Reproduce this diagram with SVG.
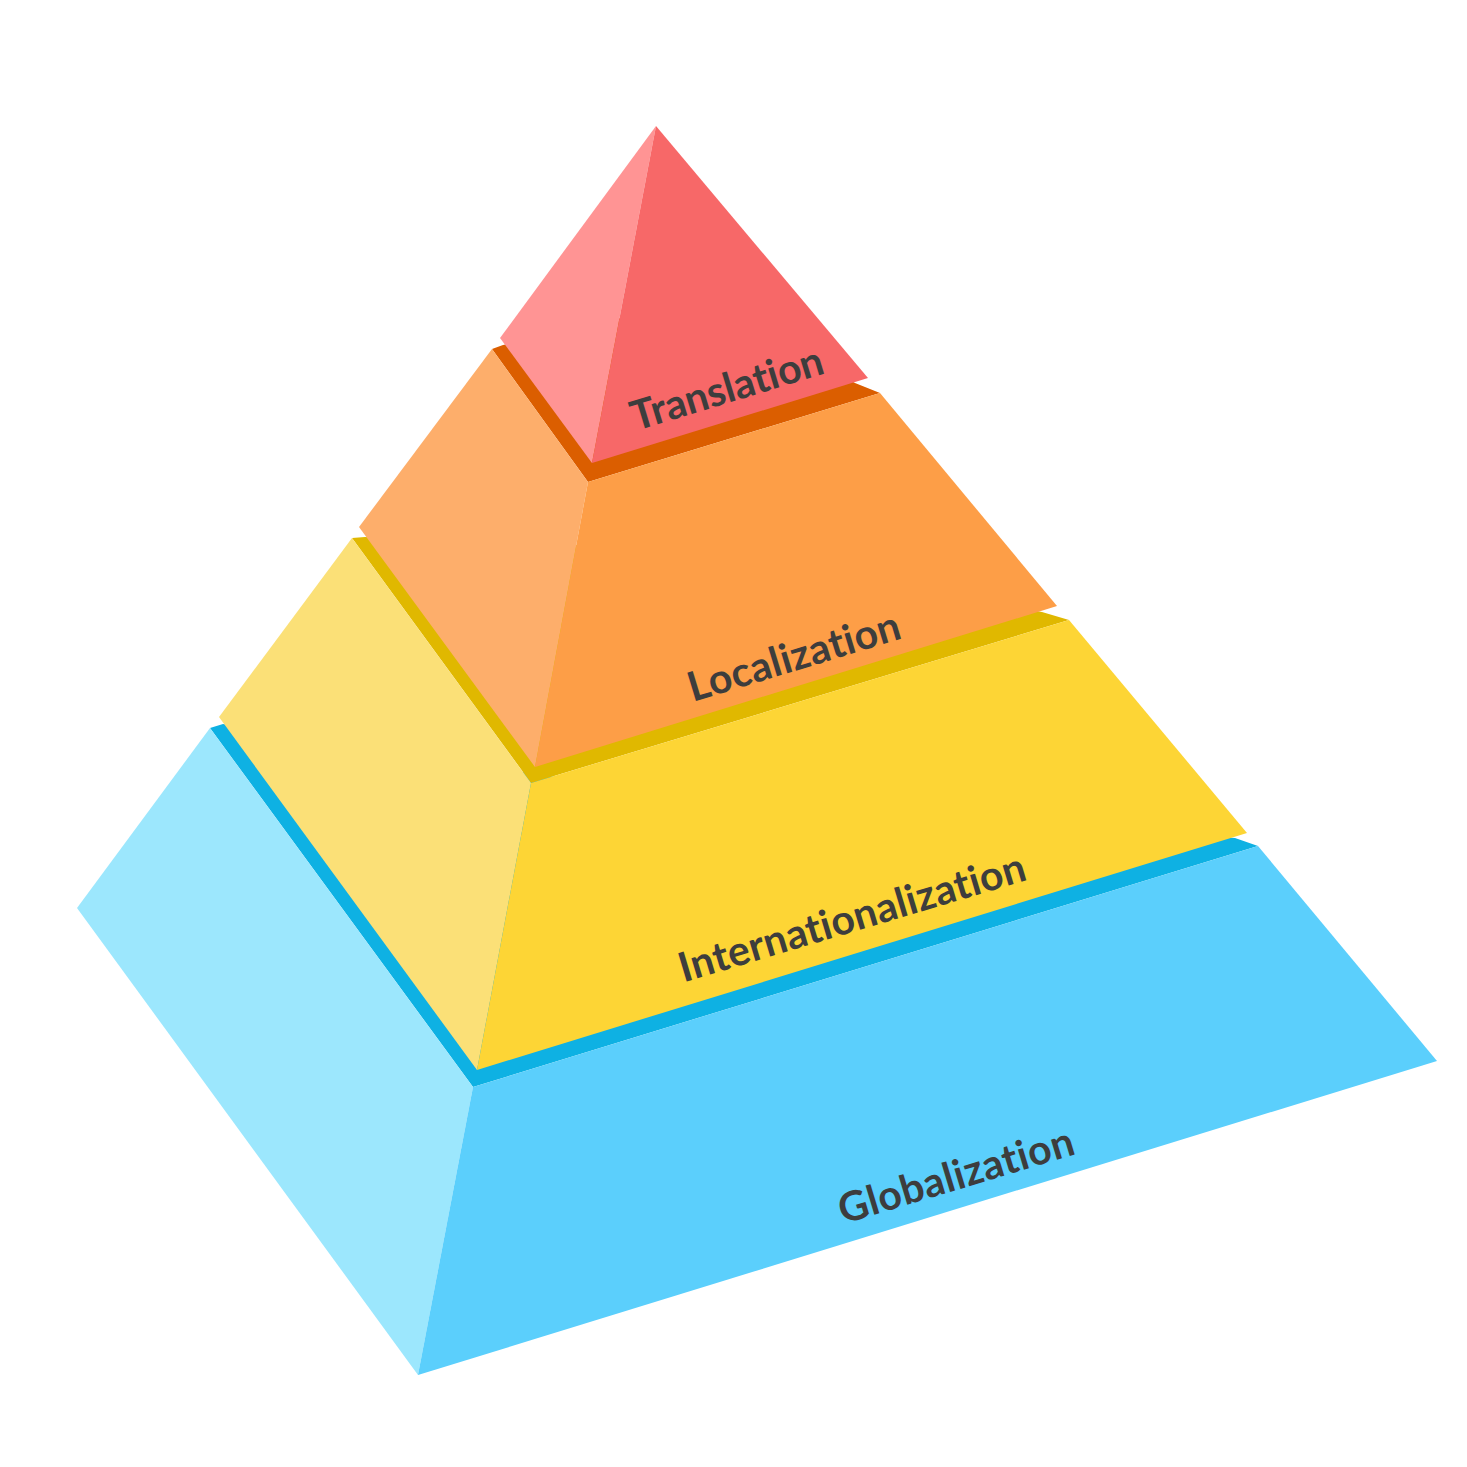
<svg xmlns="http://www.w3.org/2000/svg" width="1467" height="1467" viewBox="0 0 1467 1467">
<style>
.lbl{font-family:"Lato","Liberation Sans",sans-serif;font-weight:700;font-size:41px;fill:#3d3d3d;text-anchor:middle;font-variant-ligatures:none;font-feature-settings:"liga" 0,"clig" 0}
</style>
<rect width="1467" height="1467" fill="#ffffff"/>
<g id="globalization">
<polygon points="210,728 223,724 700,800 1235,838 1258,846 473,1087" fill="#0eb1e3"/>
<polygon points="210,728 77,908 418,1375 473,1087" fill="#9ce7fd"/>
<polygon points="473,1087 1258,846 1437,1061 418,1375" fill="#5bcffc"/>
<text class="lbl" transform="translate(960,1189) rotate(-16.8)" textLength="244" lengthAdjust="spacing">Globalization</text>
</g>
<g id="internationalization">
<polygon points="352,538 365,537 700,550 1042,612 1069,620 531,783" fill="#e0b800"/>
<polygon points="352,538 219,717 477,1070 531,783" fill="#fbe077"/>
<polygon points="531,783 1069,620 1247,833 477,1070" fill="#fdd535"/>
<text class="lbl" transform="translate(856,931) rotate(-16.6)" textLength="360" lengthAdjust="spacing">Internationalization</text>
</g>
<g id="localization">
<polygon points="492,349 503,345 700,300 855,383 880,393 588,482" fill="#db5e00"/>
<polygon points="492,349 359,527 535,767 588,482" fill="#fdae6b"/>
<polygon points="588,482 880,393 1057,606 535,767" fill="#fd9e47"/>
<text class="lbl" transform="translate(798,670) rotate(-16.9)" textLength="220" lengthAdjust="spacing">Localization</text>
</g>
<g id="translation">
<polygon points="656,126 500,338 592,463" fill="#ff9494"/>
<polygon points="656,126 868,378 592,463" fill="#f76868"/>
<text class="lbl" transform="translate(731,402) rotate(-16.9)" textLength="199" lengthAdjust="spacing">Translation</text>
</g>
<g id="connectors"/>
</svg>
